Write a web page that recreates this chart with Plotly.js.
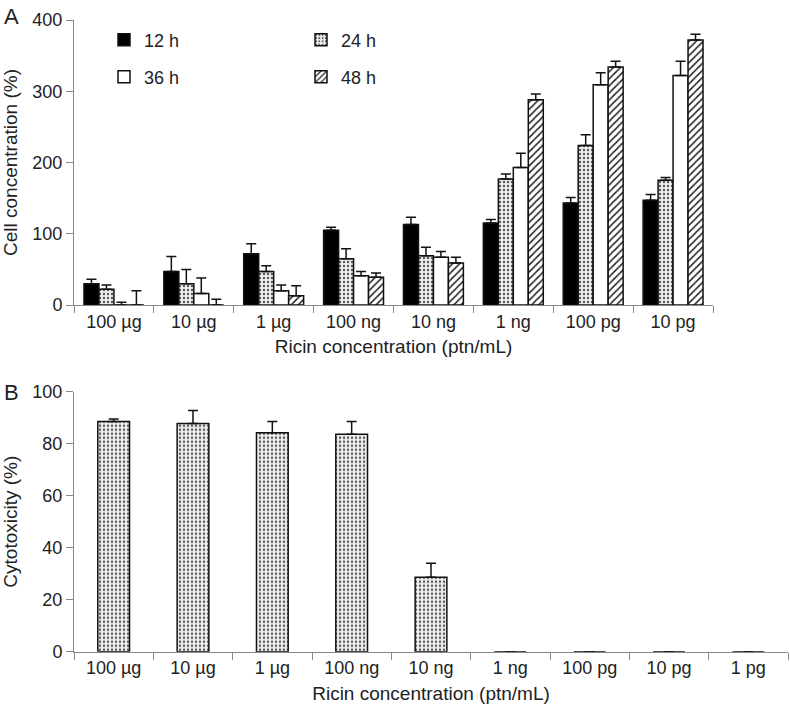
<!DOCTYPE html>
<html><head><meta charset="utf-8">
<script src="https://cdn.plot.ly/plotly-3.0.1.min.js"></script>
<style>html,body{margin:0;padding:0;background:#fff}</style>
</head><body><div id="chart" style="width:790px;height:707px"></div>
<script>
const concA = ['100 µg','10 µg','1 µg','100 ng','10 ng','1 ng','100 pg','10 pg'];
const h12 = [30,47,72,105,113,115,143,147];
const h12err = [6,21,14,4,10,5,8,8];
const h24 = [22,30,47,65,69,177,224,175];
const h24err = [6,20,8,14,12,7,15,4];
const h36 = [0,16,20,41,67,193,309,322];
const h36err = [4,22,8,6,8,20,17,20];
const h48 = [0,0,13,39,59,288,334,372];
const h48err = [20,8,14,6,8,8,8,8];
const concB = ['100 µg','10 µg','1 µg','100 ng','10 ng','1 ng','100 pg','10 pg','1 pg'];
const cyto = [88.5,87.8,84.2,83.6,28.6,0,0,0,0];
const cytoErr = [1,5,4.3,4.9,5.4,0,0,0,0];

const FONT = 'Liberation Sans, Arial, Helvetica, sans-serif';
const LINE = {color:'#111', width:1.5};
const DOTS = {shape:'.', size:4, solidity:0.28, fgcolor:'#555', bgcolor:'#eee', fillmode:'replace'};
function err(a){return {type:'data', symmetric:false, array:a, arrayminus:a.map(()=>0), color:'#111', thickness:1.5, width:5};}

const traces = [
  {type:'bar', name:'12 h', x:concA, y:h12, error_y:err(h12err), marker:{color:'#000', line:LINE}, xaxis:'x', yaxis:'y', legend:'legend'},
  {type:'bar', name:'24 h', x:concA, y:h24, error_y:err(h24err), marker:{color:'#ddd', line:LINE, pattern:DOTS}, xaxis:'x', yaxis:'y', legend:'legend'},
  {type:'bar', name:'36 h', x:concA, y:h36, error_y:err(h36err), marker:{color:'#fff', line:LINE}, xaxis:'x', yaxis:'y', legend:'legend2'},
  {type:'bar', name:'48 h', x:concA, y:h48, error_y:err(h48err), marker:{color:'#fff', line:LINE, pattern:{shape:'/', size:5, solidity:0.3, fgcolor:'#222', bgcolor:'#fff', fillmode:'replace'}}, xaxis:'x', yaxis:'y', legend:'legend2'},
  {type:'bar', name:'Cytotoxicity', x:concB, y:cyto, width:0.4, error_y:err(cytoErr), marker:{color:'#ddd', line:LINE, pattern:DOTS}, xaxis:'x2', yaxis:'y2', showlegend:false}
];

const axCommon = {showline:true, linecolor:'#888', linewidth:1, ticks:'outside', ticklen:7, tickcolor:'#888', showgrid:false, zeroline:false, tickfont:{size:18, color:'#222'}, automargin:false};

const layout = {
  width:790, height:707,
  margin:{l:0, r:0, t:0, b:0},
  paper_bgcolor:'#fff', plot_bgcolor:'#fff',
  font:{family:FONT, color:'#222', size:18},
  barmode:'group', bargap:0.25, bargroupgap:0,
  xaxis:Object.assign({}, axCommon, {domain:[74/790, 713/790], anchor:'y', type:'category', tickson:'boundaries', range:[-0.5,7.5], title:{text:'Ricin concentration (ptn/mL)', font:{size:19}, standoff:9}}),
  yaxis:Object.assign({}, axCommon, {domain:[1-305/707, 1-20/707], anchor:'x', range:[0,400], dtick:100, title:{text:'Cell concentration (%)', font:{size:19}, standoff:14}}),
  xaxis2:Object.assign({}, axCommon, {domain:[74/790, 788/790], anchor:'y2', type:'category', tickson:'boundaries', range:[-0.5,8.5], title:{text:'Ricin concentration (ptn/mL)', font:{size:19}, standoff:9}}),
  yaxis2:Object.assign({}, axCommon, {domain:[1-651.7/707, 1-391.7/707], anchor:'x2', range:[0,100], dtick:20, title:{text:'Cytotoxicity (%)', font:{size:19}, standoff:14}}),
  legend:{orientation:'h', x:104/790, y:1-40/707, xanchor:'left', yanchor:'middle', entrywidth:152, entrywidthmode:'pixels', font:{size:18, color:'#222'}, bgcolor:'rgba(0,0,0,0)', itemwidth:30},
  legend2:{orientation:'h', x:104/790, y:1-77/707, xanchor:'left', yanchor:'middle', entrywidth:152, entrywidthmode:'pixels', font:{size:18, color:'#222'}, bgcolor:'rgba(0,0,0,0)', itemwidth:30},
  annotations:[
    {text:'A', x:2/790, y:1-2/707, xref:'paper', yref:'paper', xanchor:'left', yanchor:'top', showarrow:false, font:{size:22, color:'#222'}},
    {text:'B', x:2/790, y:1-378/707, xref:'paper', yref:'paper', xanchor:'left', yanchor:'top', showarrow:false, font:{size:22, color:'#222'}}
  ]
};

Plotly.newPlot('chart', traces, layout, {displayModeBar:false, staticPlot:true});
</script></body></html>
